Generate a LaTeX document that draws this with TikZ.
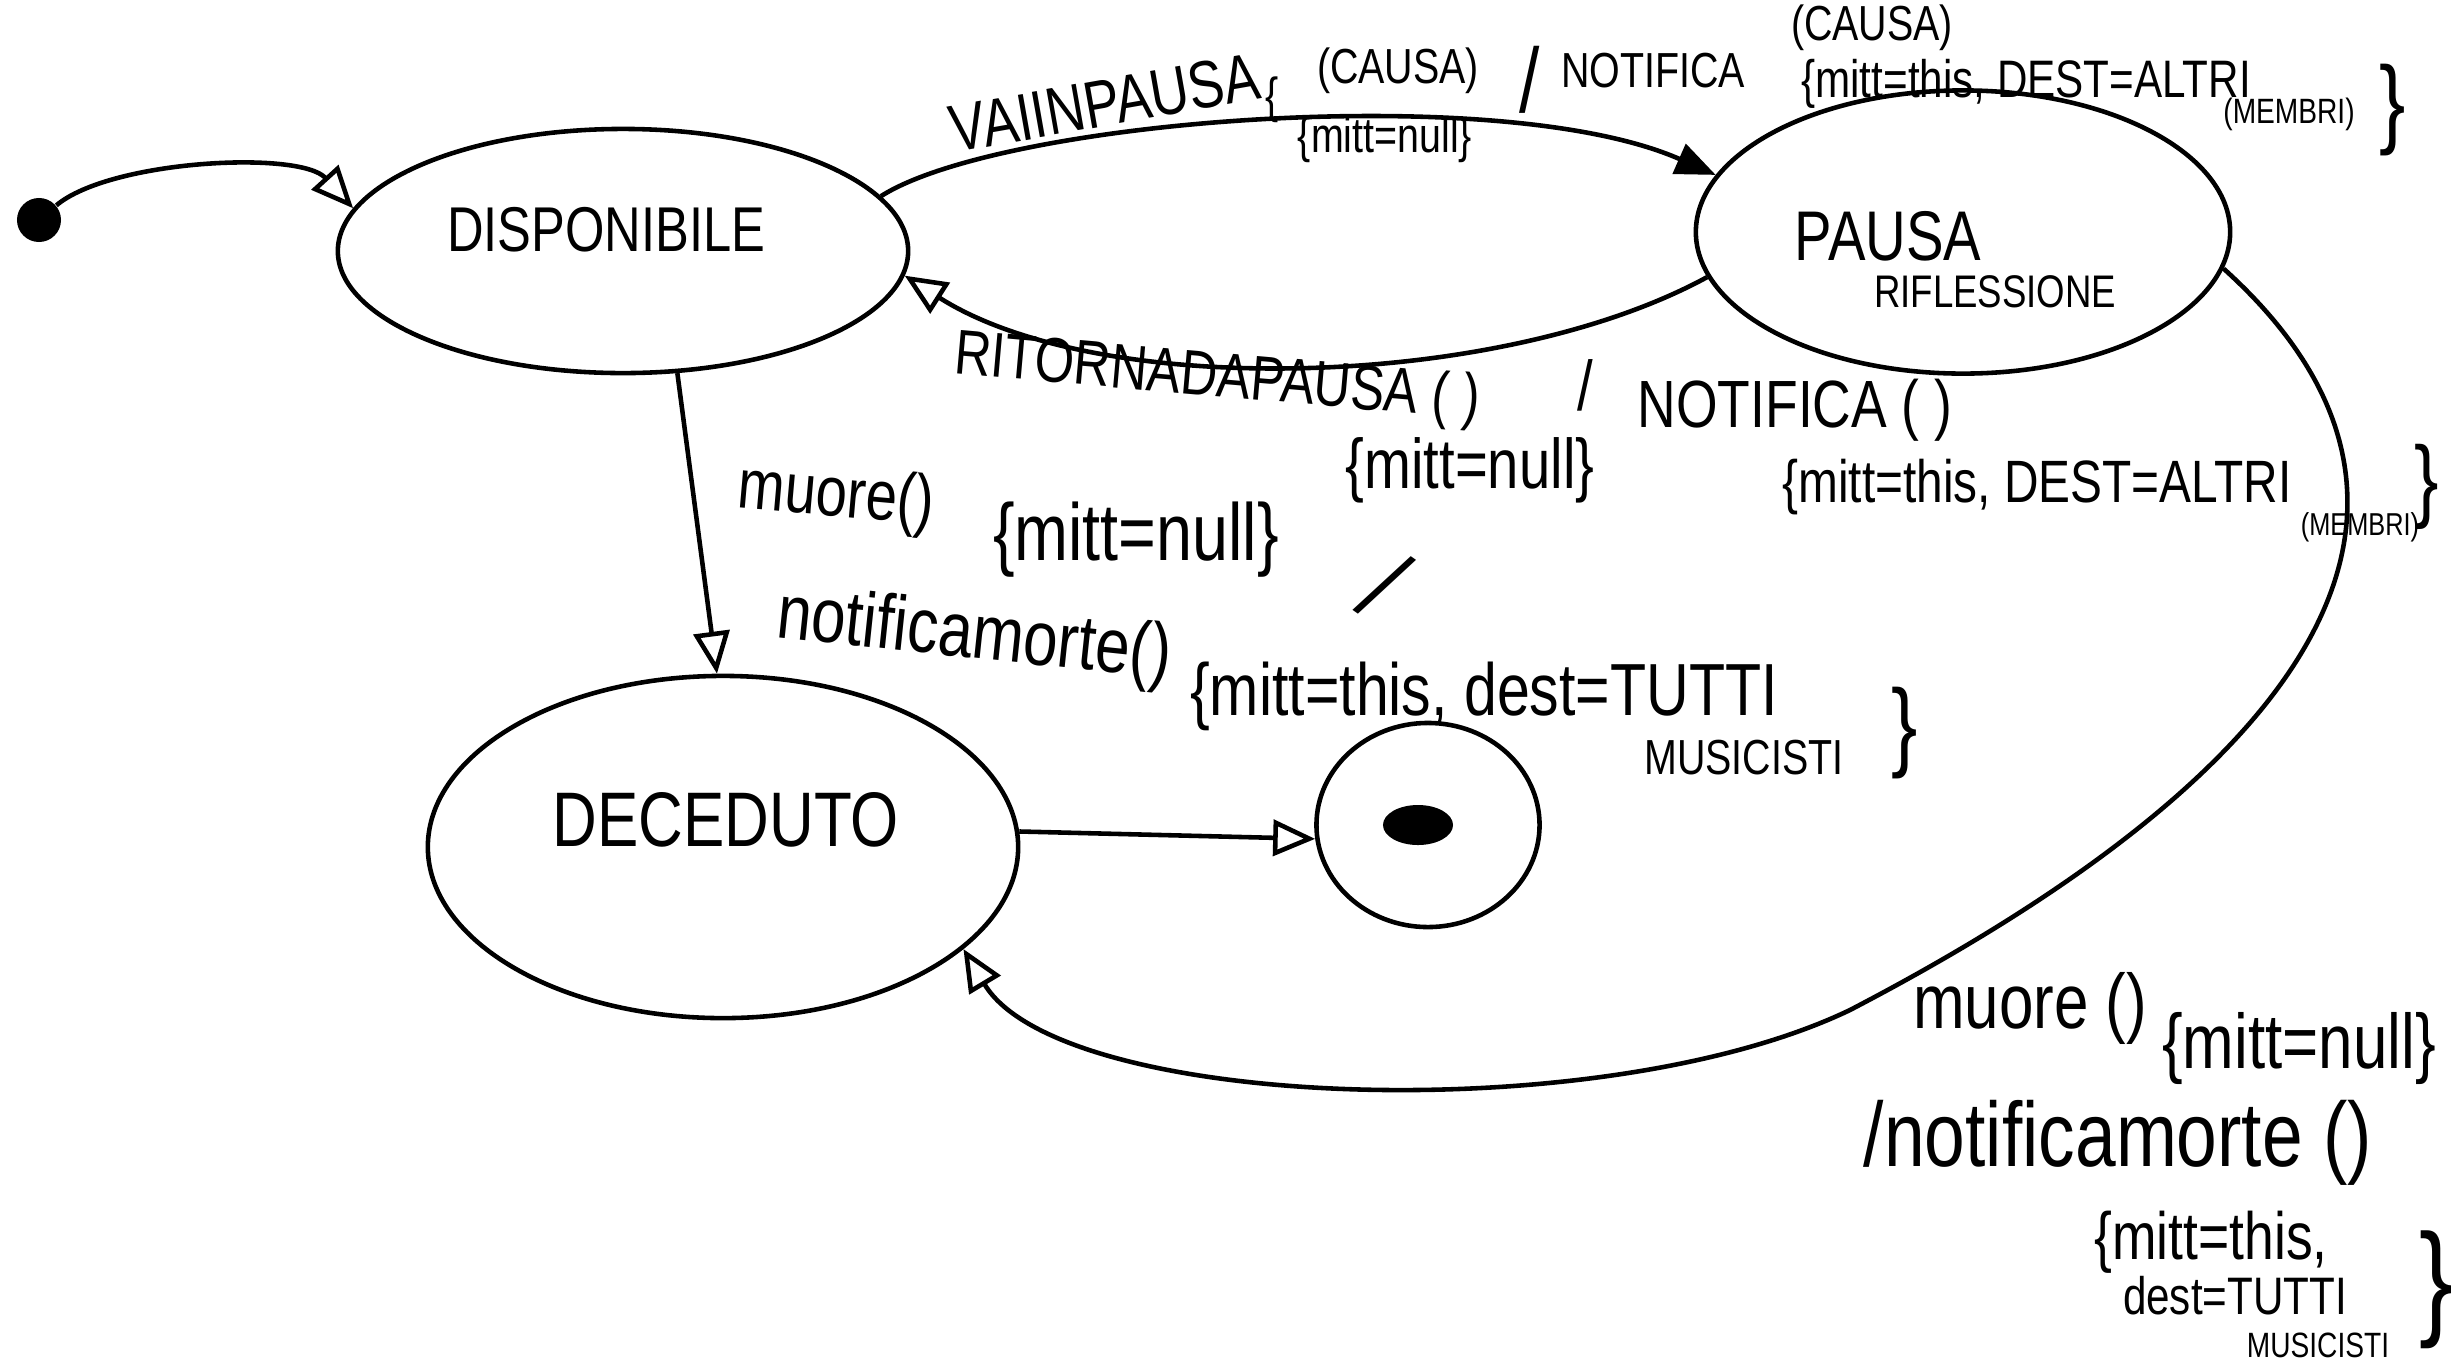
\documentclass[tikz,border=0pt]{standalone}
\usepackage{fontspec}
\newfontfamily\hand[FakeStretch=0.8]{Liberation Sans}
\usetikzlibrary{arrows.meta,shapes.geometric}

\begin{document}
\begin{tikzpicture}[x=0.01cm, y=-0.01cm,
        state/.style={draw, ellipse, line width=1.3pt, inner sep=0pt},
        txt/.style={font=\hand\fontsize{#1}{#1}\selectfont, inner sep=0pt},
        opentip/.style={-{Triangle[open, length=0.42cm, width=0.36cm]}, line width=1.3pt},
        filltip/.style={-{Triangle[length=0.4cm, width=0.32cm]}, line width=1.3pt}]
        \useasboundingbox (0,0) rectangle (2463,1363);

        % States
        \node[circle, fill, minimum size=0.44cm, inner sep=0pt] (init) at (39,220) {};
        \node[state, minimum width=5.7cm, minimum height=2.44cm] (disp) at (623,251) {};
        \node[state, minimum width=5.34cm, minimum height=2.83cm] (pausa) at (1963,232) {};
        \node[state, minimum width=5.9cm, minimum height=3.42cm] (dec) at (723,847) {};
        \node[state, minimum width=2.23cm, minimum height=2.04cm] (fin) at (1428,825) {};
        \node[ellipse, fill, minimum width=0.7cm, minimum height=0.4cm, inner sep=0pt] (findot) at (1418,825) {};

        \node[txt=18] (dispname) at (606,230) {DISPONIBILE};
        \node[txt=20] (pausaname) at (1888,236) {PAUSA};
        \node[txt=13] (riflname) at (1995,292) {RIFLESSIONE};
        \node[txt=22] (decname) at (726,820) {DECEDUTO};

        % Arrows
        \draw[opentip] (init) .. controls (110,160) and (300,150) .. (disp.171);
        \draw[filltip] (disp.12) .. controls (1000,120) and (1500,80) .. (pausa.167);
        \draw[opentip] (pausa.190) .. controls (1500,390) and (1100,400) .. (disp.-5);
        \draw[opentip] (disp.-66) -- (dec.92);
        \draw[opentip] (dec.3) -- (fin.187);
        \coordinate (bend) at (1850,1010);
        \draw[opentip] (pausa.-8) .. controls (2480,500) and (2330,760) .. (bend)
                .. controls (1600,1130) and (1060,1110) .. (dec.-23);

        % Labels: disponibile -> pausa
        \node[txt=19, rotate=10] (vai) at (1105,103) {VAIINPAUSA};
        \node[txt=14] (vaibr) at (1272,100) {\{};
        \node[txt=14] (vaicausa) at (1398,71) {(CAUSA)};
        \node[txt=26] (vaisl) at (1530,80) {/};
        \node[txt=14] (vainot) at (1653,71) {NOTIFICA};
        \node[txt=14] (vaicausb) at (1872,28) {(CAUSA)};
        \node[txt=15] (vaimitt) at (2026,84) {\{mitt=this, DEST=ALTRI};
        \node[txt=10] (vaimemb) at (2289,114) {(MEMBRI)};
        \node[txt=28] (vaiend) at (2393,110) {\}};
        \node[txt=14] (vainull) at (1385,140) {\{mitt=null\}};

        % Labels: pausa -> disponibile
        \node[txt=18, rotate=-5] (rit) at (1217,380) {RITORNADAPAUSA ( )};
        \node[txt=20] (ritnull) at (1470,470) {\{mitt=null\}};
        \node[txt=20] (ritsl) at (1585,385) {/};
        \node[txt=19] (ritnot) at (1795,410) {NOTIFICA ( )};
        \node[txt=17] (ritmitt) at (2037,487) {\{mitt=this, DEST=ALTRI};
        \node[txt=9] (ritmemb) at (2360,527) {(MEMBRI)};
        \node[txt=26] (ritend) at (2427,487) {\}};

        % Labels: disponibile -> deceduto
        \node[txt=20, rotate=-5] (muo) at (836,498) {muore()};
        \node[txt=23] (muonull) at (1136,540) {\{mitt=null\}};
        \node[txt=30, rotate=-35] (muosl) at (1385,585) {/};
        \node[txt=22, rotate=-6] (muonot) at (974,638) {notificamorte()};
        \node[txt=21] (muomitt) at (1484,696) {\{mitt=this, dest=TUTTI};
        \node[txt=14] (muomus) at (1744,758) {MUSICISTI};
        \node[txt=28] (muoend) at (1905,733) {\}};

        % Labels: pausa -> deceduto
        \node[txt=22] (lmuo) at (2030,1008) {muore ()};
        \node[txt=22] (lnull) at (2299,1048) {\{mitt=null\}};
        \node[txt=26] (lnot) at (2118,1143) {/notificamorte ()};
        \node[txt=19] (lmitt) at (2211,1242) {\{mitt=this,};
        \node[txt=15] (ldest) at (2235,1296) {dest=TUTTI};
        \node[txt=10] (lmus) at (2318,1345) {MUSICISTI};
        \node[txt=36] (lend) at (2436,1290) {\}};
    \end{tikzpicture}
\end{document}
